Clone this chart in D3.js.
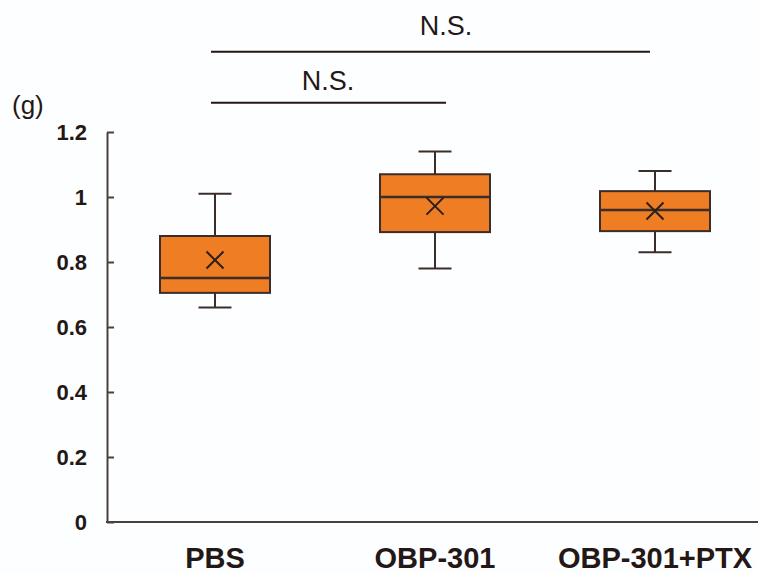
<!DOCTYPE html>
<html>
<head>
<meta charset="utf-8">
<script src="https://cdn.jsdelivr.net/npm/d3@7"></script>
<style>
  html, body { margin: 0; padding: 0; background: #fdfeff; }
  svg { display: block; }
</style>
</head>
<body>
<svg id="chart" width="758" height="573"></svg>
<script>
// ---- data ----
const categories = ["PBS", "OBP-301", "OBP-301+PTX"];
const whiskerLow  = [0.66, 0.78, 0.83];
const q1          = [0.705, 0.892, 0.895];
const median      = [0.751, 1.0, 0.96];
const q3          = [0.88, 1.07, 1.018];
const whiskerHigh = [1.01, 1.14, 1.08];
const mean        = [0.806, 0.972, 0.957];
const yTicks      = [0, 0.2, 0.4, 0.6, 0.8, 1.0, 1.2];
const yTickLabels = ["0", "0.2", "0.4", "0.6", "0.8", "1", "1.2"];
const unitLabel   = "(g)";
const brackets = [
  { from: "PBS", to: "OBP-301", label: "N.S." },
  { from: "PBS", to: "OBP-301+PTX", label: "N.S." }
];

// ---- layout ----
const W = 758, H = 573;
const svg = d3.select("#chart");
const ink = "#231815";
const axisCol = "#4a403e";
const fill = "#ee7d23";
const font = "'Liberation Sans', Arial, Helvetica, sans-serif";

const y = d3.scaleLinear().domain([0, 1.2]).range([522, 132]);
const x = d3.scaleBand().domain(categories).range([105, 765])
  .paddingInner(0.5).paddingOuter(0.25);
const cx = c => x(c) + x.bandwidth() / 2;
const axisX = 107;

// y axis
const yAxis = d3.axisLeft(y)
  .tickValues(yTicks)
  .tickFormat((d, i) => yTickLabels[i])
  .tickSize(-7)
  .tickSizeOuter(0)
  .tickPadding(20);
const gy = svg.append("g").attr("transform", `translate(${axisX},0)`).call(yAxis);
gy.select(".domain").attr("stroke", axisCol).attr("stroke-width", 2);
gy.selectAll(".tick line").attr("stroke", axisCol).attr("stroke-width", 2);
gy.selectAll(".tick text")
  .attr("fill", ink).attr("font-family", font)
  .attr("font-weight", "bold").attr("font-size", 22);

// x axis
const xAxis = d3.axisBottom(x).tickSize(0).tickPadding(0);
const gx = svg.append("g").attr("transform", `translate(0,${y(0)})`).call(xAxis);
gx.select(".domain").remove();
gx.append("line").attr("x1", axisX - 1).attr("x2", W).attr("y1", 0).attr("y2", 0)
  .attr("stroke", axisCol).attr("stroke-width", 2);
gx.selectAll(".tick text")
  .attr("fill", ink).attr("font-family", font)
  .attr("font-weight", "bold").attr("font-size", 29)
  .attr("dy", null).attr("y", 46);

// unit label
svg.append("text").attr("x", 12).attr("y", 114)
  .attr("font-family", font).attr("font-size", 26).attr("fill", ink)
  .text(unitLabel);

// boxes
const boxStroke = "#3b2d2a";
const capHalf = 16.5, xHalf = 8.5;
const g = svg.append("g");
categories.forEach((c, i) => {
  const m = cx(c);
  const bw = x.bandwidth();
  // whiskers
  g.append("line").attr("x1", m).attr("x2", m).attr("y1", y(whiskerHigh[i])).attr("y2", y(q3[i]))
    .attr("stroke", boxStroke).attr("stroke-width", 2);
  g.append("line").attr("x1", m).attr("x2", m).attr("y1", y(q1[i])).attr("y2", y(whiskerLow[i]))
    .attr("stroke", boxStroke).attr("stroke-width", 2);
  g.append("line").attr("x1", m - capHalf).attr("x2", m + capHalf).attr("y1", y(whiskerHigh[i])).attr("y2", y(whiskerHigh[i]))
    .attr("stroke", boxStroke).attr("stroke-width", 2);
  g.append("line").attr("x1", m - capHalf).attr("x2", m + capHalf).attr("y1", y(whiskerLow[i])).attr("y2", y(whiskerLow[i]))
    .attr("stroke", boxStroke).attr("stroke-width", 2);
  // box
  g.append("rect").attr("x", x(c)).attr("width", bw)
    .attr("y", y(q3[i])).attr("height", y(q1[i]) - y(q3[i]))
    .attr("fill", fill).attr("stroke", boxStroke).attr("stroke-width", 2);
  // median
  g.append("line").attr("x1", x(c)).attr("x2", x(c) + bw).attr("y1", y(median[i])).attr("y2", y(median[i]))
    .attr("stroke", boxStroke).attr("stroke-width", 2.5);
  // mean marker
  const my = y(mean[i]);
  g.append("path")
    .attr("d", `M${m - xHalf},${my - xHalf}L${m + xHalf},${my + xHalf}M${m - xHalf},${my + xHalf}L${m + xHalf},${my - xHalf}`)
    .attr("stroke", "#2a1f1c").attr("stroke-width", 2).attr("fill", "none");
});

// significance brackets
const bracketY = [102.7, 51.7];
const labelGap = [13, 16.5];
const endOffset = { "OBP-301": 11, "OBP-301+PTX": -5 };
const textX = { "OBP-301": -107, "OBP-301+PTX": -209 };
brackets.forEach((b, i) => {
  const x1 = cx(b.from) - 4;
  const x2 = cx(b.to) + endOffset[b.to];
  const ly = bracketY[i];
  svg.append("line").attr("x1", x1).attr("x2", x2).attr("y1", ly).attr("y2", ly)
    .attr("stroke", ink).attr("stroke-width", 2);
  svg.append("text").attr("x", cx(b.to) + textX[b.to]).attr("y", ly - labelGap[i])
    .attr("text-anchor", "middle").attr("font-family", font).attr("font-size", 27)
    .attr("fill", ink).text(b.label);
});
</script>
</body>
</html>
